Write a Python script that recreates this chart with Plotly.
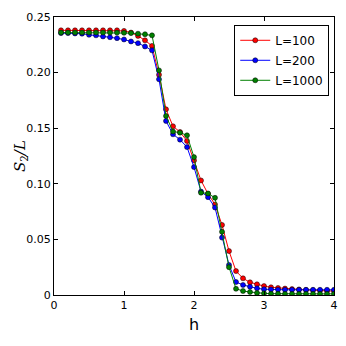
import plotly.graph_objects as go

h = [round(0.1 * i, 1) for i in range(1, 41)]

s_L100 = [0.238, 0.238, 0.238, 0.238, 0.238, 0.238, 0.238, 0.238, 0.238, 0.2375,
          0.236, 0.233, 0.229, 0.224, 0.198, 0.167, 0.1517, 0.1466, 0.1385, 0.121,
          0.103, 0.091, 0.0814, 0.063, 0.0395, 0.0215, 0.015, 0.0114, 0.0096, 0.008,
          0.0069, 0.0063, 0.0058, 0.0053, 0.005, 0.0046, 0.0043, 0.004, 0.0037, 0.0035]

s_L200 = [0.2355, 0.2355, 0.2352, 0.235, 0.234, 0.2335, 0.2325, 0.2318, 0.231, 0.2298,
          0.228, 0.2265, 0.2235, 0.220, 0.194, 0.1565, 0.1445, 0.1397, 0.133, 0.115,
          0.093, 0.088, 0.0787, 0.0516, 0.027, 0.0117, 0.009, 0.0075, 0.006, 0.0052,
          0.0049, 0.0048, 0.0047, 0.0047, 0.0047, 0.0047, 0.0047, 0.0047, 0.0047, 0.0047]

s_L1000 = [0.236, 0.236, 0.236, 0.236, 0.236, 0.236, 0.236, 0.236, 0.236, 0.2358,
           0.2355, 0.235, 0.2345, 0.2335, 0.202, 0.161, 0.147, 0.146, 0.1436, 0.124,
           0.092, 0.0913, 0.0874, 0.0568, 0.025, 0.0056, 0.0036, 0.0027, 0.0018, 0.0015,
           0.0012, 0.0011, 0.001, 0.001, 0.001, 0.001, 0.001, 0.001, 0.001, 0.001]

labels = ["L=100", "L=200", "L=1000"]
colors = ["#ff0000", "#0000ff", "#008000"]
series = [s_L100, s_L200, s_L1000]

x_ticks = [0, 1, 2, 3, 4]
y_ticks = [0, 0.05, 0.10, 0.15, 0.20, 0.25]
y_tick_text = ["0", "0.05", "0.10", "0.15", "0.20", "0.25"]

fig = go.Figure()
for lab, col, ys in zip(labels, colors, series):
    fig.add_trace(go.Scatter(
        x=h, y=ys, name=lab, mode="lines+markers", legendgroup=lab,
        line=dict(color=col, width=1),
        marker=dict(color=col, size=5, line=dict(color="black", width=0.5)),
    ))

axis_common = dict(
    showline=True, linecolor="black", linewidth=1, mirror="ticks",
    ticks="inside", ticklen=4, tickcolor="black", showgrid=False, zeroline=False,
    automargin=False,
    tickfont=dict(family="DejaVu Sans", size=11, color="black"),
)

fig.update_layout(
    width=338, height=338,
    margin=dict(l=46, r=12, t=9, b=51, autoexpand=False),
    paper_bgcolor="white", plot_bgcolor="white",
    showlegend=True,
    legend=dict(
        x=0.983, y=0.972, xanchor="right", yanchor="top",
        bgcolor="white", bordercolor="black", borderwidth=1,
        font=dict(family="DejaVu Sans", size=12, color="black"),
        tracegroupgap=1, itemwidth=30,
    ),
    xaxis=dict(range=[0, 4], tickvals=x_ticks, ticktext=[str(v) for v in x_ticks],
               **axis_common),
    yaxis=dict(range=[0, 0.25], tickvals=y_ticks, ticktext=y_tick_text,
               **axis_common),
    annotations=[
        dict(text="h", xref="paper", yref="paper", x=0.5, y=-0.065, yanchor="top",
             xanchor="center", showarrow=False,
             font=dict(family="DejaVu Sans", size=16, color="black")),
        dict(text="<i>S</i><sub>2</sub><i>/L</i>", xref="paper", yref="paper",
             x=-0.08, y=0.5, xanchor="right", yanchor="middle", textangle=-90,
             showarrow=False,
             font=dict(family="DejaVu Serif", size=15, color="black")),
    ],
)

fig.write_html("out.html")
